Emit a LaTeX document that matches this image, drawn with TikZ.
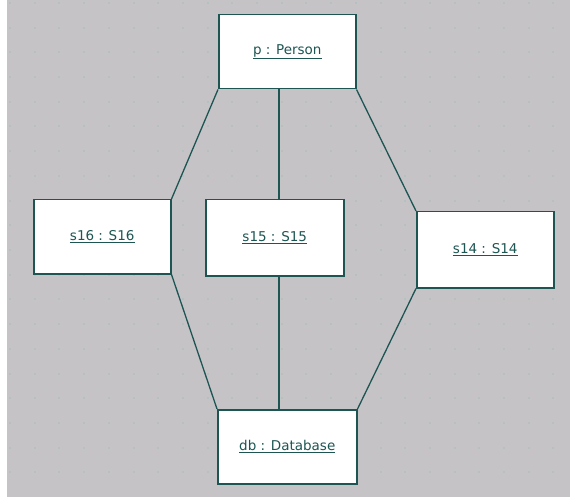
\documentclass[tikz,border=0pt]{standalone}
\usepackage{fontspec}
\setmainfont{DejaVu Sans}
\definecolor{canvas}{HTML}{C6C3C7}
\definecolor{ink}{HTML}{1D5552}
\definecolor{griddot}{HTML}{B3C1C1}
\begin{document}
\begin{tikzpicture}[x=1pt,y=-1pt,
  obj/.style={draw=ink, line width=1.5pt, fill=white, anchor=north west,
    inner sep=0pt, text=ink, font=\fontsize{13.5}{16}\selectfont},
  link/.style={draw=ink, line width=1.3pt}]
  % canvas
  \fill[white] (0,0) rectangle (570,497);
  \fill[canvas] (7,0) rectangle (570,497);
  \useasboundingbox (0,0) rectangle (570,497);
  % dotted grid
  \foreach \i in {0,...,22}{
    \foreach \j in {0,...,19}{
      \fill[griddot] ({9+24.7*\i},{2+24.7*\j}) rectangle ++(2,2);
    }
  }
  % objects
  \node[obj, minimum width=137, minimum height=74] (p) at (218,14) {\underline{p : Person}};
  \node[obj, minimum width=137, minimum height=74] (s16) at (33,199) {\underline{s16 : S16}};
  \node[obj, minimum width=138, minimum height=76] (s15) at (205,199) {\underline{s15 : S15}};
  \node[obj, minimum width=137, minimum height=76] (s14) at (416,211) {\underline{s14 : S14}};
  \node[obj, minimum width=139, minimum height=74] (db) at (217,409) {\underline{db : Database}};
  \coordinate (mid) at (279,0);
  % links
  \draw[link] (p.south west) -- (s16.north east);
  \draw[link] (p.south -| mid) -- (s15.north -| mid);
  \draw[link] (p.south east) -- (s14.north west);
  \draw[link] (s16.south east) -- (db.north west);
  \draw[link] (s15.south -| mid) -- (db.north -| mid);
  \draw[link] (s14.south west) -- (db.north east);
\end{tikzpicture}
\end{document}
